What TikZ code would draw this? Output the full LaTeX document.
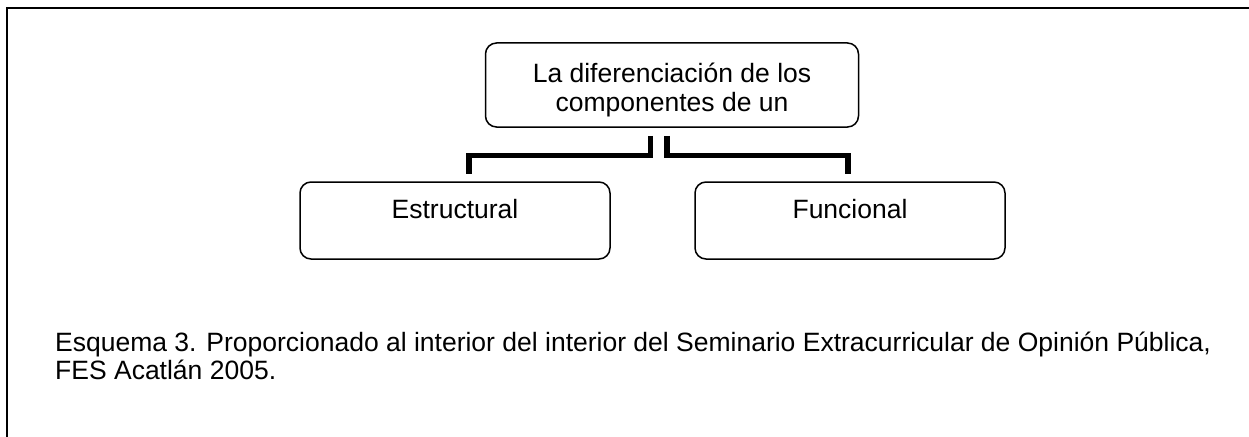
\documentclass[tikz,border=0pt]{standalone}
\usepackage{fontspec}
\setmainfont{Liberation Sans}

\begin{document}
\begin{tikzpicture}[x=1pt, y=-1pt,
    box/.style={draw, rounded corners=11pt, line width=1.5pt, font=\fontsize{26.5}{29}\selectfont},
    bracket/.style={line width=5.5pt}]
    \useasboundingbox (0,0) rectangle (1249,436);

    % Frame
    \draw[line width=2pt] (7,440) -- (7,8) -- (1253,8);

    % Concept
    \node[box, align=center, minimum width=373pt, minimum height=84pt, text height=58pt, text depth=6pt] (concept) at (672,85) {La diferenciación de los\\componentes de un};

    % Components
    \node[box, minimum width=310pt, minimum height=77pt, text height=19pt, text depth=23pt] (estructural) at (455,220.5) {Estructural};
    \node[box, minimum width=310pt, minimum height=77pt, text height=19pt, text depth=23pt] (funcional) at (850,220.5) {Funcional};

    % Connections
    \draw[bracket] ([xshift=-21.5pt,yshift=-8pt]concept.south) -- ++(0,19.5) -| ([xshift=14pt,yshift=7pt]estructural.north);
    \draw[bracket] ([xshift=-5pt,yshift=-8pt]concept.south) -- ++(0,19.5) -| ([xshift=-2pt,yshift=7pt]funcional.north);

    % Caption
    \node[anchor=base west, align=left, inner sep=0pt, font=\fontsize{26.5}{28}\selectfont] (caption) at (55,379) {Esquema 3. Proporcionado al interior del interior del Seminario Extracurricular de Opinión Pública,\\FES Acatlán 2005.};
\end{tikzpicture}
\end{document}
